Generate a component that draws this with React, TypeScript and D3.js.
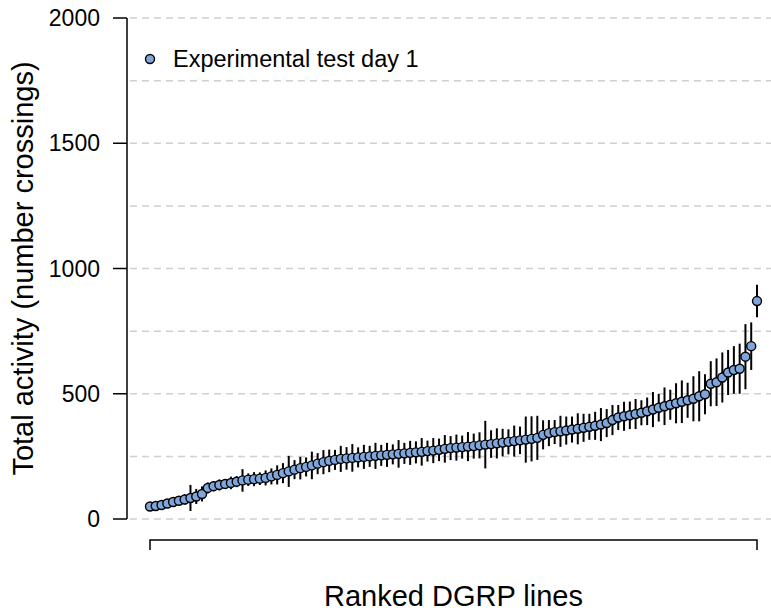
import React from "react";
import * as d3 from "d3";

const values: number[] = [
  50, 52, 56, 62, 68, 73, 78, 84, 90, 100,
  124, 131, 136, 140, 144, 149, 154, 157, 159, 161,
  164, 170, 176, 183, 190, 197, 203, 208, 214, 221,
  227, 232, 236, 240, 242, 244, 246, 248, 250, 252,
  254, 256, 258, 260, 262, 264, 266, 268, 271, 273,
  276, 280, 283, 285, 287, 289, 291, 294, 297, 299,
  302, 305, 308, 311, 314, 317, 320, 324, 336, 343,
  347, 350, 353, 357, 360, 364, 368, 372, 377, 383,
  395, 405, 410, 414, 419, 424, 430, 437, 444, 450,
  456, 462, 468, 474, 480, 490, 498, 540, 546, 565,
  585, 595, 600, 648, 690, 870,
];

const errors: number[] = [
  10, 12, 12, 15, 15, 18, 20, 52, 30, 30,
  22, 20, 22, 20, 25, 22, 45, 25, 28, 25,
  30, 32, 38, 40, 62, 38, 45, 38, 55, 42,
  48, 45, 40, 52, 45, 55, 40, 48, 42, 52,
  42, 48, 40, 55, 42, 48, 44, 55, 42, 50,
  45, 55, 48, 52, 46, 58, 50, 52, 95, 55,
  60, 55, 50, 62, 55, 92, 90, 88, 58, 52,
  48, 62, 56, 52, 62, 56, 52, 56, 66, 56,
  60, 50, 58, 55, 60, 50, 55, 70, 55, 75,
  60, 80, 85, 70, 90, 100, 80, 90, 95, 100,
  90, 95, 100, 130, 95, 65,
];

const yTicks: number[] = [0, 500, 1000, 1500, 2000];
const gridLines: number[] = [0, 250, 500, 750, 1000, 1250, 1500, 1750, 2000];
const legendLabel = "Experimental test day 1";
const yLabel = "Total activity (number crossings)";
const xLabel = "Ranked DGRP lines";

const W = 771;
const H = 614;
const FONT = "'Liberation Sans', Arial, Helvetica, sans-serif";
const FILL = "#7ea6da";

export default function App() {
  const n = values.length;
  const x = d3.scaleLinear().domain([0, n - 1]).range([150, 757]);
  const y = d3.scaleLinear().domain([0, 2000]).range([519, 18]);
  const axisX = 127;

  return (
    <svg
      width={W}
      height={H}
      style={{ position: "absolute", left: 0, top: 0, background: "#fff" }}
    >
      {gridLines.map((g) => (
        <line
          key={"g" + g}
          x1={axisX + 3}
          x2={W}
          y1={y(g)}
          y2={y(g)}
          stroke="#d0d0d0"
          strokeWidth={1.5}
          strokeDasharray="7,5"
        />
      ))}
      <line x1={axisX} x2={axisX} y1={y(0)} y2={y(2000)} stroke="#000" strokeWidth={1.5} />
      {yTicks.map((t) => (
        <g key={"t" + t}>
          <line x1={axisX - 14} x2={axisX} y1={y(t)} y2={y(t)} stroke="#000" strokeWidth={1.5} />
          <text
            x={100}
            y={y(t) + 8}
            textAnchor="end"
            fontFamily={FONT}
            fontSize={23}
          >
            {t}
          </text>
        </g>
      ))}
      <path
        d={`M${x(0)},550 L${x(0)},540 L${x(n - 1)},540 L${x(n - 1)},550`}
        fill="none"
        stroke="#000"
        strokeWidth={1.5}
      />
      {values.map((v, i) => (
        <line
          key={"e" + i}
          x1={x(i)}
          x2={x(i)}
          y1={y(v - errors[i])}
          y2={y(v + errors[i])}
          stroke="#000"
          strokeWidth={2}
        />
      ))}
      {values.map((v, i) => (
        <circle
          key={"p" + i}
          cx={x(i)}
          cy={y(v)}
          r={4.5}
          fill={FILL}
          stroke="#000"
          strokeWidth={1.4}
        />
      ))}
      <circle cx={150} cy={59} r={4.5} fill={FILL} stroke="#000" strokeWidth={1.4} />
      <text x={173} y={67} fontFamily={FONT} fontSize={23.5}>
        {legendLabel}
      </text>
      <text
        x={(x(0) + x(n - 1)) / 2}
        y={606}
        textAnchor="middle"
        fontFamily={FONT}
        fontSize={29}
      >
        {xLabel}
      </text>
      <text
        transform={`translate(33,${(y(0) + y(2000)) / 2}) rotate(-90)`}
        textAnchor="middle"
        fontFamily={FONT}
        fontSize={29}
      >
        {yLabel}
      </text>
    </svg>
  );
}
